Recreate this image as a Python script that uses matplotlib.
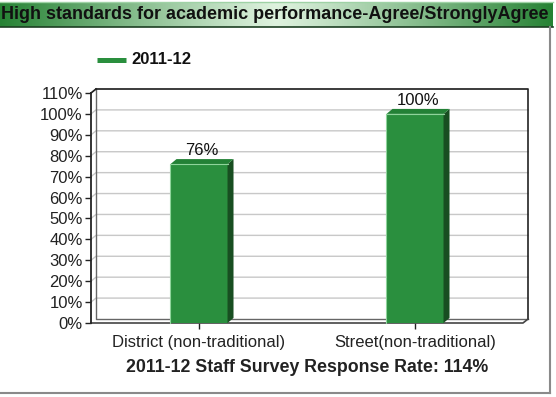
import numpy as np
import matplotlib.pyplot as plt
from matplotlib.patches import Polygon, Rectangle
from matplotlib.lines import Line2D

plt.rcParams['font.family'] = ['Liberation Sans', 'DejaVu Sans']

categories = ['District (non-traditional)', 'Street(non-traditional)']
values = [76, 100]
value_labels = ['76%', '100%']
series_name = '2011-12'
yticks = list(range(0, 111, 10))
title = 'High standards for academic performance-Agree/StronglyAgree'
footer = '2011-12 Staff Survey Response Rate: 114%'

W, H = 556, 397
fig = plt.figure(figsize=(W / 100, H / 100), dpi=100)
fig.patch.set_facecolor('white')

green = '#2a8f3e'
green_top = '#238136'
green_side = '#184e21'
green_hi = '#8fd49b'

# front plane of the chart
ax = fig.add_axes([91 / W, 1 - 323 / H, 432 / W, 230 / H])
ax.set_xlim(-0.5, 1.5)
ax.set_ylim(0, 110)
ax.patch.set_visible(False)
for s in ['top', 'right', 'bottom']:
    ax.spines[s].set_visible(False)
ax.spines['left'].set_linewidth(1.3)
ax.spines['left'].set_color('#222222')


def depth(dx, dy):
    # pixel offset -> data offset
    p0 = ax.transData.transform((0, 0))
    p1 = ax.transData.inverted().transform(p0 + np.array([dx, dy]))
    return p1[0], p1[1]


wx, wy = depth(5, 4)
bx, by = depth(6, 5)
x0, x1, ytop = -0.5, 1.5, 110

# back wall + grid
ax.add_patch(Rectangle((x0 + wx, wy), x1 - x0, ytop, facecolor='white',
                       edgecolor='none', zorder=0, clip_on=False))
for y in yticks[1:]:
    ax.plot([x0, x0 + wx, x1 + wx], [y, y + wy, y + wy], color='#c8c8c8',
            lw=1, zorder=1, clip_on=False)
ax.plot([x0 + wx, x1 + wx, x1 + wx], [ytop + wy, ytop + wy, wy],
        color='#222222', lw=1.2, zorder=2, clip_on=False)
ax.plot([x0, x0 + wx], [ytop, ytop + wy], color='#222222', lw=1.2, zorder=2, clip_on=False)
ax.plot([x0 + wx, x0 + wx, x1 + wx], [ytop + wy, wy, wy], color='#666666',
        lw=1, zorder=1, clip_on=False)
# floor edge
ax.plot([x0, x1, x1 + wx], [0, 0, wy], color='#444444', lw=1.2, zorder=2, clip_on=False)

# bars with a little depth
xs = np.arange(len(categories))
bw = 0.264
ax.bar(xs, values, bw, color=green, zorder=3)
for x, v, lab in zip(xs, values, value_labels):
    l, r = x - bw / 2, x + bw / 2
    ax.add_patch(Polygon([(r, 0), (r + bx, by), (r + bx, v + by), (r, v)],
                         closed=True, facecolor=green_side, edgecolor='none',
                         zorder=3, clip_on=False))
    ax.add_patch(Polygon([(l, v), (r, v), (r + bx, v + by), (l + bx, v + by)],
                         closed=True, facecolor=green_top, edgecolor='none',
                         zorder=3, clip_on=False))
    ax.plot([l, l, r], [0, v, v], color=green_hi, lw=0.8, zorder=4, clip_on=False)
    ax.annotate(lab, (x + bx / 2, v + by), xytext=(0, 3), textcoords='offset points',
                ha='center', va='baseline', fontsize=12, color='#111111')

ax.set_yticks(yticks)
ax.set_yticklabels([f'{t}%' for t in yticks])
ax.set_xticks(xs)
ax.set_xticklabels(categories)
ax.tick_params(axis='y', direction='out', length=4, width=1, pad=2,
               labelsize=12, colors='#222222')
ax.tick_params(axis='x', direction='out', length=4, width=1, pad=5,
               labelsize=12, colors='#222222')

# title band
tax = fig.add_axes([0, 1 - 27 / H, 553 / W, 25 / H])
t = np.linspace(0, 1, 400)
mix = np.abs(2 * t - 1) ** 1.1
dark = np.array([38, 130, 52]) / 255
light = np.array([222, 242, 222]) / 255
grad = light[None, :] * (1 - mix[:, None]) + dark[None, :] * mix[:, None]
tax.imshow(grad[None, :, :], aspect='auto', extent=[0, 1, 0, 1])
tax.set_xlim(0, 1)
tax.set_ylim(0, 1)
tax.axis('off')
tax.text(1 / 553, 0.5, title, fontsize=13.0, fontweight='bold', color='#111111',
         ha='left', va='center', clip_on=True)
fig.add_artist(Line2D([0, 553 / W], [1 - 27 / H] * 2, color='#1c3f22', lw=1.2))
fig.add_artist(Line2D([0, 553 / W], [1 - 1.5 / H] * 2, color='#9fd2a6', lw=1))

# legend
fig.add_artist(Line2D([97 / W, 126 / W], [1 - 60 / H] * 2, color=green, lw=3.6,
                      solid_capstyle='butt'))
fig.text(131 / W, 1 - 60 / H, series_name, fontsize=12, fontweight='bold',
         color='#111111', ha='left', va='center')

fig.text(307 / W, 1 - 368 / H, footer, fontsize=12.8, fontweight='bold',
         color='#222222', ha='center', va='center')

# outer frame
fig.add_artist(Line2D([550 / W, 550 / W], [1 - 27 / H, 1 - 393 / H], color='#8a8a8a', lw=1.5))
fig.add_artist(Line2D([0, 550 / W], [1 - 393 / H] * 2, color='#8a8a8a', lw=1.5))

fig.savefig('out.png', dpi=100)
